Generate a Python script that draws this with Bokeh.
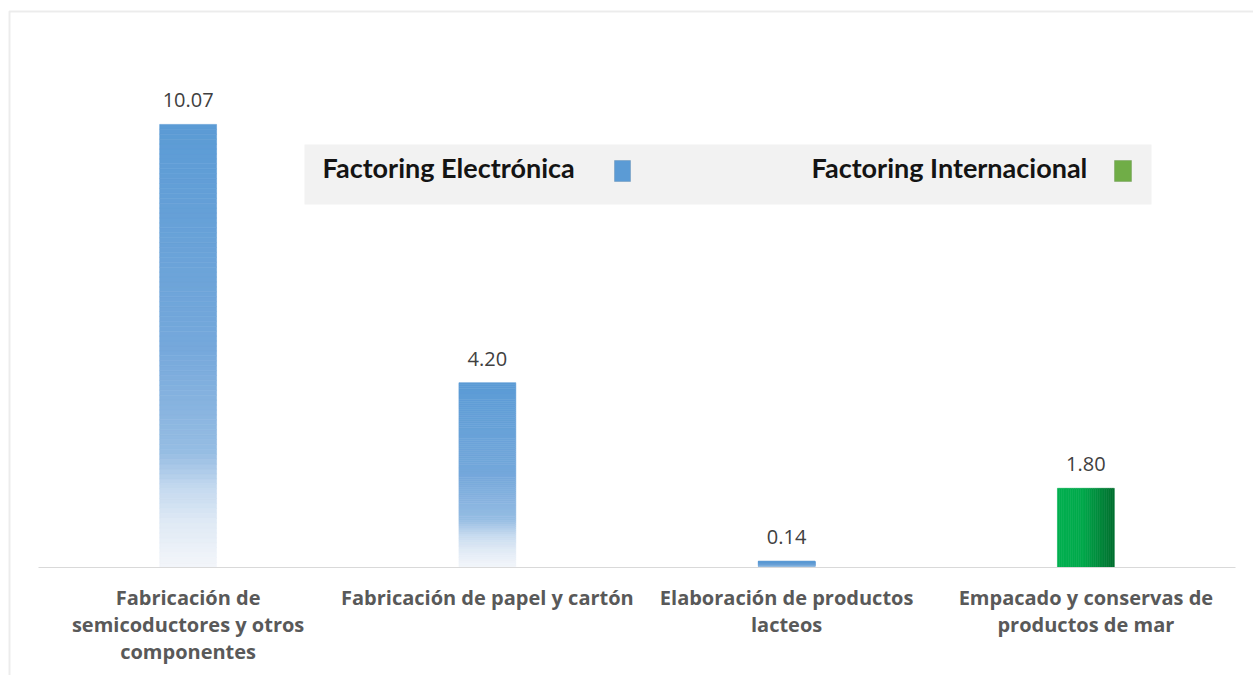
from bokeh.plotting import figure
from bokeh.models import ColumnDataSource, FixedTicker, BoxAnnotation, Label, Range1d
from bokeh.core.properties import value
from bokeh.embed import file_html
from bokeh.resources import INLINE

# ---------------- data ----------------
categories = [
    "Fabricación de\nsemicoductores y otros\ncomponentes",
    "Fabricación de papel y cartón",
    "Elaboración de productos\nlacteos",
    "Empacado y conservas de\nproductos de mar",
]
values = [10.07, 4.20, 0.14, 1.80]
series = ["Factoring Electrónica", "Factoring Electrónica", "Factoring Electrónica", "Factoring Internacional"]
legend_names = ["Factoring Electrónica", "Factoring Internacional"]

# ---------------- layout (canvas px) ----------------
W, H = 1253, 675
PL, PR = 38, 1235          # plot-area left / right
BASE = 567                 # baseline (value 0)
PX_PER_UNIT = 44.0
N = len(categories)
UNIT_X = (PR - PL) / N
BAR_W = 0.19

def xd(px):
    return (px - PL) / UNIT_X

def yd(py):
    return (BASE - py) / PX_PER_UNIT

p = figure(width=W, height=H, output_backend="svg", toolbar_location=None,
           x_range=Range1d(xd(0), xd(W)), y_range=Range1d(yd(H), yd(0)),
           min_border=0, min_border_left=0, min_border_right=0,
           min_border_top=0, min_border_bottom=0)
p.background_fill_color = "white"
p.border_fill_color = "white"
p.outline_line_color = None
p.xgrid.visible = False
p.ygrid.visible = False
p.yaxis.visible = False

xs = [i + 0.5 for i in range(N)]

def hex2rgb(h):
    h = h.lstrip("#")
    return tuple(int(h[i:i + 2], 16) for i in (0, 2, 4))

def rgb2hex(c):
    return "#%02x%02x%02x" % tuple(int(round(v)) for v in c)

def interp(stops, t):
    for (t0, c0), (t1, c1) in zip(stops, stops[1:]):
        if t0 <= t <= t1:
            f = 0 if t1 == t0 else (t - t0) / (t1 - t0)
            a, b = hex2rgb(c0), hex2rgb(c1)
            return rgb2hex([a[k] + (b[k] - a[k]) * f for k in range(3)])
    return stops[-1][1]

# outer chart border
p.add_layout(BoxAnnotation(left=xd(9), right=xd(1400), top=yd(11), bottom=yd(900),
                           fill_color=None, line_color="#BFBFBF", line_width=2,
                           level="underlay"))

# vertical gradient for blue bars (t=0 top, t=1 bottom)
blue_stops = [(0.0, "#5B9BD5"), (0.5, "#75A8DB"), (0.74, "#96BDE3"),
              (0.82, "#C4D9EF"), (0.9, "#E0EAF5"), (1.0, "#F3F6FA")]
# horizontal gradient for green bar (t=0 left, t=1 right)
green_stops = [(0.0, "#00B050"), (0.45, "#00A84B"), (1.0, "#006E2E")]

gx, gw, gt, gb, gc = [], [], [], [], []
NV, NH = 90, 30
for x, v, s in zip(xs, values, series):
    if s == legend_names[0]:
        for k in range(NV):
            gx.append(x); gw.append(BAR_W)
            gb.append(v * k / NV); gt.append(v * (k + 1) / NV)
            gc.append(interp(blue_stops, 1 - (k + 0.5) / NV))
    else:
        for j in range(NH):
            gx.append(x - BAR_W / 2 + BAR_W * (j + 0.5) / NH)
            gw.append(BAR_W / NH); gb.append(0); gt.append(v)
            gc.append(interp(green_stops, (j + 0.5) / NH))

src = ColumnDataSource(dict(x=gx, w=gw, top=gt, bottom=gb, c=gc))
p.vbar(x="x", width="w", top="top", bottom="bottom", source=src,
       fill_color="c", line_color="c", line_width=0.6)

# value labels
lsrc = ColumnDataSource(dict(x=xs, y=values, t=["%.2f" % v for v in values]))
p.text(x="x", y="y", text="t", source=lsrc, text_align="center",
       text_baseline="middle", y_offset=-24, text_font=value("Open Sans"),
       text_font_size="20px", text_color="#404040")

# category axis drawn at value 0
ax = p.xaxis[0]
ax.fixed_location = 0
ax.bounds = (0, N)
ax.ticker = FixedTicker(ticks=xs)
ax.major_label_overrides = {x: c for x, c in zip(xs, categories)}
ax.axis_line_color = "#D9D9D9"
ax.axis_line_width = 1
ax.major_tick_line_color = None
ax.minor_tick_line_color = None
ax.major_label_standoff = 10
ax.major_label_text_font = "Open Sans"
ax.major_label_text_font_style = "bold"
ax.major_label_text_font_size = "20px"
ax.major_label_text_color = "#595959"
ax.major_label_text_line_height = 1.0

# legend (text followed by swatch); screen units from canvas bottom-left
def sy(py):
    return H - py

p.add_layout(BoxAnnotation(left=304, right=1151, top=sy(144), bottom=sy(204),
                           left_units="screen", right_units="screen",
                           top_units="screen", bottom_units="screen",
                           fill_color="#F2F2F2", fill_alpha=1, line_color=None,
                           level="underlay"))
leg_text_x = [322, 811]
leg_sw = [(614, 630, "#5B9BD5", "#41719C"), (1114, 1131, "#70AD47", "#507E32")]
for name, tx, (l, r, fc, lc) in zip(legend_names, leg_text_x, leg_sw):
    p.add_layout(Label(x=tx, y=sy(167), x_units="screen", y_units="screen",
                       text=name, text_font="Lato", text_font_style="bold",
                       text_font_size="27px", text_color="#141414",
                       text_baseline="middle", text_align="left"))
    p.add_layout(BoxAnnotation(left=l, right=r, top=sy(160), bottom=sy(181),
                               left_units="screen", right_units="screen",
                               top_units="screen", bottom_units="screen",
                               fill_color=fc, fill_alpha=1, line_color=lc, line_width=1))

open("out.html", "w").write(file_html(p, INLINE))
